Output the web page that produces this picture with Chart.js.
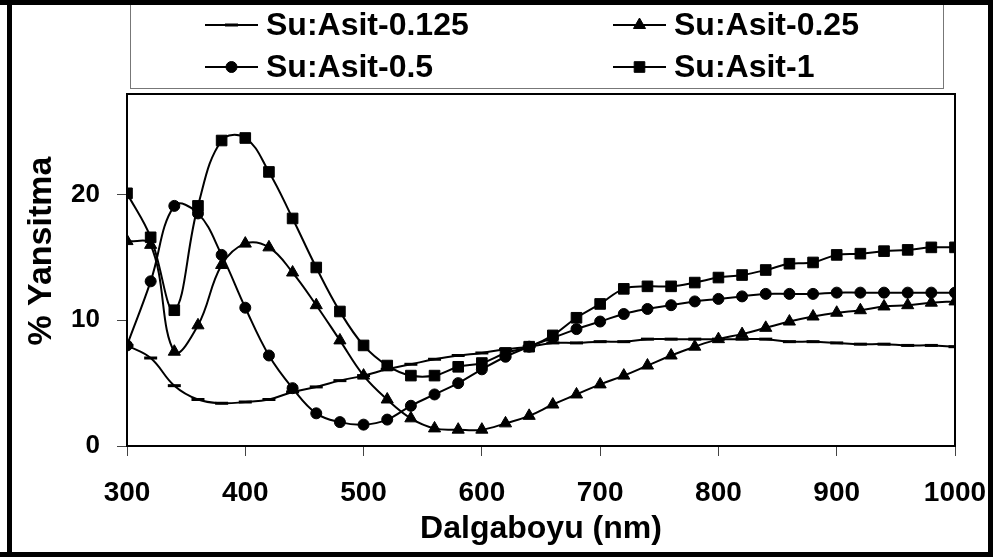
<!DOCTYPE html>
<html>
<head>
<meta charset="utf-8">
<script src="https://cdn.jsdelivr.net/npm/chart.js@4"></script>
<style>
    body { margin: 0; background: #fff; }
    canvas { display: block; }
</style>
</head>
<body>
<canvas id="yansitma-grafica" width="993" height="557"></canvas>
<script>
// dalga boyu (nm)
const dalgaboyu = [300, 320, 340, 360, 380, 400, 420, 440, 460, 480, 500, 520, 540, 560, 580, 600, 620, 640,
    660, 680, 700, 720, 740, 760, 780, 800, 820, 840, 860, 880, 900, 920, 940, 960, 980, 1000];

const etiketler = ['Su:Asit-0.125', 'Su:Asit-0.25', 'Su:Asit-0.5', 'Su:Asit-1'];

// % yansitma degerleri
const asit0125 = [8.0, 7.0, 4.8, 3.7, 3.4, 3.5, 3.7, 4.3, 4.7, 5.2, 5.6, 6.1, 6.5, 6.9, 7.2, 7.4, 7.7, 7.9,
    8.2, 8.2, 8.3, 8.3, 8.5, 8.5, 8.5, 8.5, 8.5, 8.5, 8.3, 8.3, 8.2, 8.1, 8.1, 8.0, 8.0, 7.9];
const asit025 = [16.3, 16.0, 7.5, 9.6, 14.4, 16.1, 15.8, 13.8, 11.2, 8.4, 5.6, 3.7, 2.2, 1.4, 1.3, 1.3, 1.8, 2.4,
    3.3, 4.1, 4.9, 5.6, 6.4, 7.2, 7.9, 8.5, 8.9, 9.4, 9.9, 10.3, 10.6, 10.8, 11.1, 11.2, 11.4, 11.5];
const asit05 = [8.0, 13.1, 19.1, 18.5, 15.2, 11.0, 7.2, 4.6, 2.6, 1.9, 1.7, 2.1, 3.2, 4.1, 5.0, 6.1, 7.1, 7.9,
    8.6, 9.3, 9.9, 10.5, 10.9, 11.2, 11.5, 11.7, 11.9, 12.1, 12.1, 12.1, 12.2, 12.2, 12.2, 12.2, 12.2, 12.2];
const asit1 = [20.1, 16.6, 10.8, 19.1, 24.3, 24.5, 21.8, 18.1, 14.2, 10.7, 8.0, 6.4, 5.6, 5.6, 6.3, 6.6, 7.4, 7.9,
    8.8, 10.2, 11.3, 12.5, 12.7, 12.7, 13.0, 13.4, 13.6, 14.0, 14.5, 14.6, 15.2, 15.3, 15.5, 15.6, 15.8, 15.8];

const xTicks = [300, 400, 500, 600, 700, 800, 900, 1000];
const yTicks = [0, 10, 20];

const yazi = '"Liberation Sans", Arial, sans-serif';

function seri(label, degerler, stil, radius, kalinlik) {
    return {
        label: label,
        data: dalgaboyu.map((x, i) => ({ x: x, y: degerler[i] })),
        borderColor: '#000',
        backgroundColor: '#000',
        borderWidth: 2,
        tension: 0.4,
        pointStyle: stil,
        pointRadius: radius,
        pointBorderWidth: kalinlik,
        pointBackgroundColor: '#000',
        pointBorderColor: '#000'
    };
}

// cerceveler ve lejant
const cizimler = {
    id: 'cizimler',
    beforeDatasetsDraw(chart) {
        const ctx = chart.ctx;
        const a = chart.chartArea;
        ctx.save();
        ctx.strokeStyle = '#000';
        ctx.lineWidth = 2;
        ctx.strokeRect(a.left, a.top, a.right - a.left, a.bottom - a.top);
        ctx.restore();
    },
    afterDraw(chart) {
        const ctx = chart.ctx;
        ctx.save();
        // lejant kutusu
        ctx.strokeStyle = '#777';
        ctx.lineWidth = 1;
        ctx.strokeRect(130.5, 3.5, 813, 85);

        const konumlar = [[205, 25], [613, 25], [205, 67], [613, 67]];
        chart.data.datasets.forEach((ds, i) => {
            const [x, y] = konumlar[i];
            ctx.strokeStyle = '#000';
            ctx.fillStyle = '#000';
            ctx.lineWidth = 2;
            ctx.beginPath();
            ctx.moveTo(x, y);
            ctx.lineTo(x + 53, y);
            ctx.stroke();
            ctx.lineWidth = ds.pointBorderWidth;
            Chart.helpers.drawPoint(ctx, {
                pointStyle: ds.pointStyle,
                radius: ds.pointRadius,
                rotation: 0,
                borderWidth: ds.pointBorderWidth
            }, x + 26.5, y);
            ctx.font = 'bold 32px ' + yazi;
            ctx.textAlign = 'left';
            ctx.textBaseline = 'middle';
            ctx.fillText(ds.label, x + 61, y + 1);
        });

        // dis cerceve
        ctx.fillStyle = '#000';
        ctx.fillRect(0, 0, 993, 5);
        ctx.fillRect(0, 552, 993, 5);
        ctx.fillRect(7, 0, 5, 557);
        ctx.fillRect(988, 0, 5, 557);
        ctx.restore();
    }
};

const ctx = document.getElementById('yansitma-grafica').getContext('2d');
const grafik = new Chart(ctx, {
    type: 'line',
    data: {
        datasets: [
            seri(etiketler[0], asit0125, 'line', 6.5, 3),
            seri(etiketler[1], asit025, 'triangle', 7, 1),
            seri(etiketler[2], asit05, 'circle', 5.5, 1),
            seri(etiketler[3], asit1, 'rect', 7.5, 1)
        ]
    },
    options: {
        responsive: false,
        animation: false,
        layout: { padding: { top: 94, left: 12, right: 38, bottom: 5 } },
        plugins: {
            legend: { display: false },
            tooltip: { enabled: false }
        },
        scales: {
            x: {
                type: 'linear',
                min: 300,
                max: 1000,
                afterBuildTicks: scale => { scale.ticks = xTicks.map(v => ({ value: v })); },
                afterFit: scale => {
                    scale.height = 106;
                    scale.paddingLeft = 0;
                    scale.paddingRight = 0;
                },
                grid: { drawOnChartArea: false, tickLength: 10, tickColor: '#444', lineWidth: 1 },
                border: { color: '#000', width: 2 },
                ticks: {
                    color: '#000',
                    padding: 20,
                    maxRotation: 0,
                    callback: v => String(v),
                    font: { family: yazi, size: 28, weight: 'bold' }
                },
                title: {
                    display: true,
                    text: 'Dalgaboyu (nm)',
                    color: '#000',
                    padding: { top: 0, bottom: 4 },
                    font: { family: yazi, size: 32, weight: 'bold' }
                }
            },
            y: {
                min: 0,
                max: 28,
                afterBuildTicks: scale => { scale.ticks = yTicks.map(v => ({ value: v })); },
                afterFit: scale => { scale.width = 115; },
                grid: { drawOnChartArea: false, tickLength: 10, tickColor: '#444', lineWidth: 1 },
                border: { color: '#000', width: 2 },
                ticks: {
                    color: '#000',
                    padding: 17,
                    callback: v => String(v),
                    font: { family: yazi, size: 26, weight: 'bold' }
                },
                title: {
                    display: true,
                    text: '    % Yansitma',
                    color: '#000',
                    padding: { top: 9, bottom: 0 },
                    font: { family: yazi, size: 34, weight: 'bold' }
                }
            }
        }
    },
    plugins: [cizimler]
});
</script>
</body>
</html>
